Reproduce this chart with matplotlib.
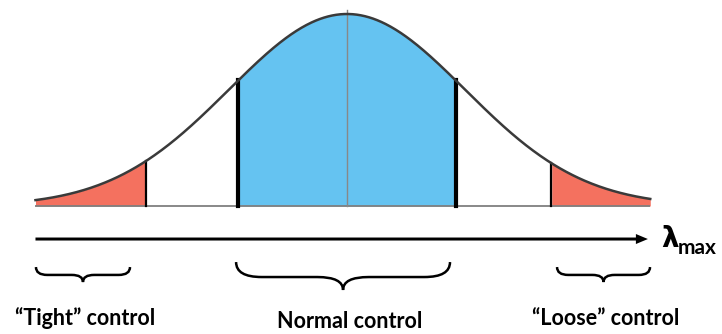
import numpy as np
import matplotlib
matplotlib.use("Agg")
import matplotlib.pyplot as plt
from matplotlib.path import Path
from matplotlib.patches import PathPatch

# ---- data (x in units of standard deviation, curve peak normalised to 1) ----
curve_mean = 0.0
curve_sigma = 1.0
curve_range = [-2.64, 2.57]
tight_cut = -1.70
normal_range = [-0.92, 0.92]
loose_cut = 1.73
labels = ["\u201cTight\u201d control", "Normal control", "\u201cLoose\u201d control"]
brace_spans = [[-2.636, -1.839], [-0.94, 0.873], [1.78, 2.568]]
axis_label = "\u03bb"
axis_sub = "max"

RED = "#F4715F"
BLUE = "#65C3F1"

fig = plt.figure(figsize=(7.22, 3.34), dpi=100)
ax = fig.add_axes([0, 0, 1, 1])
ax.set_xlim(-347 / 118, 375 / 118)
ax.set_ylim(-128 / 192, 206 / 192)
ax.axis("off")

def pdf(x):
    return np.exp(-0.5 * ((x - curve_mean) / curve_sigma) ** 2)

x = np.linspace(curve_range[0], curve_range[1], 600)
y = pdf(x)

# fills
m = x <= tight_cut
ax.fill_between(x[m], 0, y[m], color=RED, lw=0)
m = (x >= normal_range[0]) & (x <= normal_range[1])
ax.fill_between(x[m], 0, y[m], color=BLUE, lw=0)
m = x >= loose_cut
ax.fill_between(x[m], 0, y[m], color=RED, lw=0)

# baseline
ax.plot(curve_range, [0, 0], color="#7f7f7f", lw=1.3, solid_capstyle="butt")
# centre line
ax.plot([curve_mean, curve_mean], [0, 1.02], color="#888888", lw=1.0)
# boundaries
for c in [tight_cut, loose_cut]:
    ax.plot([c, c], [0, pdf(c)], color="black", lw=1.6)
for c in normal_range:
    ax.plot([c, c], [0, pdf(c)], color="black", lw=3.0)
# curve
ax.plot(x, y, color="#3a3a3a", lw=1.8)

# arrow
ax.arrow(curve_range[0], -0.172, 2.55 - curve_range[0], 0, width=3 / 192,
         head_width=10 / 192, head_length=12 / 118, length_includes_head=True,
         color="black", lw=0)

ax.text(2.661, -0.2135, axis_label, fontsize=20, fontweight="bold",
        family=["DejaVu Sans"], ha="left", va="baseline")
ax.text(2.805, -0.25, axis_sub, fontsize=15, fontweight="bold",
        family=["Lato", "DejaVu Sans"], ha="left", va="baseline")

# braces
def brace(x0, x1, y_end, y_body, y_tip):
    xm = (x0 + x1) / 2
    q = (x1 - x0) * 0.12
    verts = [(x0, y_end), (x0, y_body), (x0 + q, y_body),
             (xm - q, y_body),
             (xm, y_body), (xm, y_tip),
             (xm, y_body), (xm + q, y_body),
             (x1 - q, y_body),
             (x1, y_body), (x1, y_end)]
    codes = [Path.MOVETO, Path.CURVE3, Path.CURVE3,
             Path.LINETO,
             Path.CURVE3, Path.CURVE3,
             Path.CURVE3, Path.CURVE3,
             Path.LINETO,
             Path.CURVE3, Path.CURVE3]
    ax.add_patch(PathPatch(Path(verts, codes), fill=False, lw=1.8, color="black"))

brace(*brace_spans[0], -0.318, -0.359, -0.396)
brace(*brace_spans[1], -0.292, -0.370, -0.4375)
brace(*brace_spans[2], -0.318, -0.359, -0.396)

font = dict(fontsize=15.5, fontweight="bold", family=["Lato", "DejaVu Sans"],
            ha="center", va="baseline")
ax.text(-2.22, -0.62, labels[0], **font)
ax.text(0.025, -0.635, labels[1], **font)
ax.text(2.19, -0.62, labels[2], **font)

fig.savefig("out.png", dpi=100)
